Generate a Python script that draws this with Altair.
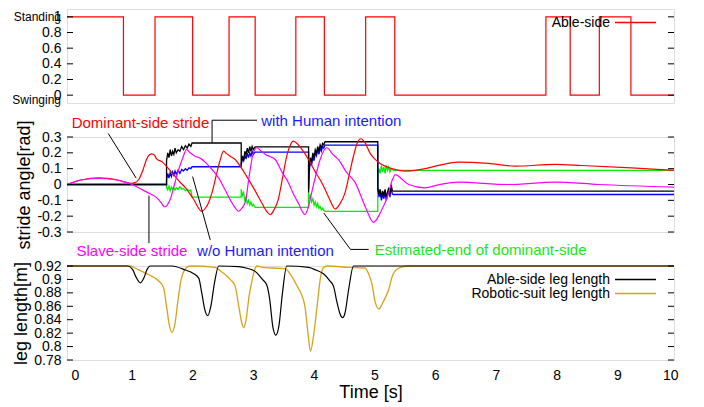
import altair as alt
import pandas as pd

FONT = "Liberation Sans"
W = 607
H_TOP, H_MID, H_BOT = 94, 95, 94

# ---------------- data ----------------
# top panel: able-side state (1 = standing, 0 = swinging), step changes
state_t = [0, 0.93, 1.45, 2.07, 2.67, 3.10, 3.77, 4.24, 4.92, 5.40, 7.89, 8.29, 8.77, 9.29, 10]
state_v = [1, 0, 1, 0, 1, 0, 1, 0, 1, 0, 1, 0, 1, 0, 0]

# middle panel: dominant-side stride (red)
dom_t = [0, 0.25, 0.52, 0.85, 1.05, 1.12, 1.18, 1.25, 1.31, 1.36, 1.40, 1.44, 1.48, 1.56, 1.65,
         1.73, 1.85, 1.95, 2.08, 2.22, 2.28, 2.33, 2.39, 2.46, 2.52, 2.58, 2.63, 2.69, 2.77, 2.88,
         2.99, 3.10, 3.21, 3.29, 3.35, 3.41, 3.48, 3.55, 3.62, 3.68, 3.73, 3.80, 3.87, 3.98, 4.09,
         4.20, 4.31, 4.42, 4.50, 4.58, 4.66, 4.72, 4.78, 4.84, 4.91, 4.99, 5.06, 5.13, 5.24, 5.35,
         5.57, 5.74, 5.90, 6.07, 6.45, 6.94, 7.38, 8.04, 8.48, 9.30, 10]
dom_v = [0, 0.03, 0.042, 0.027, 0.008, 0.012, 0.03, 0.09, 0.158, 0.188, 0.194, 0.185, 0.16, 0.145, 0.11,
         0.074, 0.02, -0.02, -0.09, -0.169, -0.15, -0.117, -0.05, 0.06, 0.15, 0.211, 0.195, 0.179, 0.158, 0.10,
         0.032, -0.04, -0.117, -0.17, -0.19, -0.16, -0.095, 0.04, 0.179, 0.25, 0.274, 0.255, 0.222, 0.158, 0.08,
         0.01, -0.08, -0.155, -0.12, -0.053, 0.08, 0.18, 0.26, 0.289, 0.264, 0.20, 0.165, 0.141, 0.116, 0.10,
         0.085, 0.089, 0.10, 0.116, 0.141, 0.133, 0.116, 0.127, 0.12, 0.105, 0.089]

# slave-side stride (magenta)
sla_t = [0, 0.25, 0.52, 0.80, 0.96, 1.10, 1.18, 1.34, 1.45, 1.51, 1.57, 1.61, 1.65, 1.70, 1.77,
         1.84, 1.91, 1.97, 2.03, 2.11, 2.20, 2.28, 2.40, 2.50, 2.60, 2.72, 2.83, 2.88, 2.94, 3.00,
         3.07, 3.13, 3.20, 3.27, 3.35, 3.43, 3.54, 3.65, 3.73, 3.81, 3.92, 3.97, 4.03, 4.10, 4.17,
         4.28, 4.38, 4.47, 4.60, 4.75, 4.91, 5.05, 5.16, 5.30, 5.36, 5.41, 5.50, 5.63, 5.90, 6.12,
         6.45, 7.27, 8.04, 8.76, 10]
sla_v = [0, 0.03, 0.038, 0.03, 0.015, -0.005, -0.021, -0.053, -0.075, -0.095, -0.125, -0.142, -0.13, -0.095, 0.0,
         0.095, 0.17, 0.222, 0.20, 0.179, 0.165, 0.14, 0.09, 0.04, -0.03, -0.117, -0.169, -0.15, -0.106, 0.05,
         0.20, 0.232, 0.21, 0.19, 0.175, 0.158, 0.08, 0.01, -0.06, -0.117, -0.19, -0.15, -0.053, 0.06, 0.158,
         0.232, 0.19, 0.158, 0.08, 0.01, -0.137, -0.239, -0.18, -0.053, 0.03, 0.063, 0.04, 0.0, -0.021, -0.002,
         0.015, 0.0, 0.015, 0.0, -0.017]

# piecewise estimates (shared time base)
step_t = [0, 1.64, 1.64, 1.66, 1.68, 1.70, 1.72, 1.74, 1.76, 1.78, 1.80, 1.83, 1.86, 1.89, 1.92, 1.95, 1.98,
          2.01, 2.04, 2.06, 2.87, 2.87, 2.89, 2.91, 2.93, 2.95, 2.97, 2.99, 3.01, 3.03, 3.05, 3.07, 3.10,
          3.98, 3.98, 3.99, 4.01, 4.03, 4.05, 4.07, 4.09, 4.11, 4.13, 4.15, 4.17, 4.19, 4.21, 4.23, 4.25,
          5.12, 5.12, 5.14, 5.16, 5.18, 5.20, 5.22, 5.24, 5.26, 5.28, 5.30, 5.32, 5.34, 5.36, 5.38, 10]
with_v = [0, 0, 0.15, 0.20, 0.17, 0.22, 0.18, 0.21, 0.19, 0.23, 0.20, 0.22, 0.21, 0.24, 0.22, 0.245, 0.23,
          0.255, 0.24, 0.262, 0.262, 0.12, 0.18, 0.15, 0.21, 0.19, 0.23, 0.20, 0.24, 0.21, 0.24, 0.22, 0.238,
          0.238, -0.05, 0.10, 0.17, 0.14, 0.20, 0.17, 0.22, 0.20, 0.24, 0.21, 0.25, 0.23, 0.26, 0.25, 0.27,
          0.27, -0.02, -0.06, -0.03, -0.08, -0.04, -0.07, -0.03, -0.08, -0.05, -0.02, -0.06, 0.0, -0.04, -0.042, -0.042]
wo_v = [0, 0, 0.03, 0.07, 0.04, 0.075, 0.05, 0.08, 0.06, 0.085, 0.065, 0.09, 0.07, 0.095, 0.085, 0.10, 0.09,
        0.105, 0.10, 0.112, 0.112, 0.13, 0.17, 0.15, 0.19, 0.16, 0.20, 0.17, 0.20, 0.18, 0.21, 0.19, 0.205,
        0.205, -0.03, 0.08, 0.15, 0.12, 0.18, 0.15, 0.20, 0.18, 0.22, 0.19, 0.23, 0.21, 0.24, 0.23, 0.249,
        0.249, -0.03, -0.08, -0.05, -0.10, -0.06, -0.09, -0.05, -0.10, -0.07, -0.04, -0.08, -0.02, -0.06, -0.063, -0.063]
est_v = [0, 0, -0.02, -0.035, -0.01, -0.04, -0.015, -0.03, -0.02, -0.035, -0.02, -0.03, -0.015, -0.03, -0.025, -0.04, -0.03,
         -0.04, -0.035, -0.08, -0.08, -0.03, -0.07, -0.05, -0.10, -0.08, -0.12, -0.10, -0.13, -0.11, -0.135, -0.125, -0.144,
         -0.144, -0.05, -0.09, -0.07, -0.11, -0.09, -0.13, -0.11, -0.14, -0.12, -0.15, -0.14, -0.16, -0.15, -0.165, -0.17,
         -0.17, 0.06, 0.10, 0.07, 0.12, 0.08, 0.11, 0.07, 0.12, 0.09, 0.11, 0.08, 0.10, 0.095, 0.089, 0.089]

# bottom panel: leg lengths
able_leg_t = [0, 1.0, 1.08, 1.14, 1.21, 1.27, 1.32, 1.37, 1.73, 1.95, 2.08, 2.17, 2.22, 2.27, 2.32,
              2.37, 2.43, 2.50, 2.83, 2.95, 3.10, 3.22, 3.29, 3.34, 3.39, 3.44, 3.49, 3.55, 3.62, 3.98,
              4.10, 4.23, 4.33, 4.39, 4.45, 4.50, 4.54, 4.58, 4.64, 4.72, 10]
able_leg_v = [0.92, 0.92, 0.915, 0.903, 0.895, 0.903, 0.915, 0.92, 0.92, 0.914, 0.909, 0.902, 0.88, 0.855, 0.846,
              0.86, 0.895, 0.92, 0.919, 0.917, 0.912, 0.90, 0.892, 0.87, 0.83, 0.817, 0.83, 0.88, 0.92, 0.918,
              0.914, 0.908, 0.898, 0.89, 0.865, 0.848, 0.843, 0.85, 0.885, 0.92, 0.92]
robo_leg_t = [0, 1.04, 1.12, 1.23, 1.35, 1.45, 1.52, 1.59, 1.64, 1.69, 1.73, 1.78, 1.83, 1.88, 1.93,
              1.97, 2.05, 2.44, 2.55, 2.61, 2.70, 2.77, 2.83, 2.88, 2.91, 2.95, 3.00, 3.04, 3.09, 3.13,
              3.22, 3.38, 3.59, 3.70, 3.78, 3.85, 3.92, 3.97, 4.01, 4.06, 4.12, 4.18, 4.23, 4.30, 4.64,
              4.91, 4.97, 5.02, 5.08, 5.14, 5.20, 5.30, 5.36, 5.41, 5.50, 5.63, 10]
robo_leg_v = [0.92, 0.92, 0.917, 0.912, 0.907, 0.902, 0.897, 0.888, 0.86, 0.83, 0.821, 0.835, 0.87, 0.90, 0.913,
              0.918, 0.92, 0.918, 0.911, 0.907, 0.899, 0.89, 0.86, 0.835, 0.828, 0.84, 0.875, 0.895, 0.914, 0.92,
              0.918, 0.917, 0.916, 0.905, 0.892, 0.88, 0.86, 0.82, 0.793, 0.815, 0.86, 0.905, 0.918, 0.92, 0.918,
              0.917, 0.908, 0.895, 0.865, 0.856, 0.865, 0.885, 0.905, 0.913, 0.918, 0.92, 0.92]

# tick values
x_ticks = [0, 1, 2, 3, 4, 5, 6, 7, 8, 9, 10]
top_ticks = [0, 0.2, 0.4, 0.6, 0.8, 1]
mid_ticks = [-0.3, -0.2, -0.1, 0, 0.1, 0.2, 0.3]
bot_ticks = [0.78, 0.8, 0.82, 0.84, 0.86, 0.88, 0.9, 0.92]

# annotation texts (middle panel)
ann_label = ["Dominant-side stride", "with Human intention", "Slave-side stride",
             "w/o Human intention", "Estimated-end of dominant-side"]
ann_t = [1.21, 3.20, 1.07, 3.27, 5.07]
ann_v = [0.391, 0.401, -0.422, -0.418, -0.412]
ann_align = ["center", "left", "center", "center", "left"]
ann_color = ["#ff0000", "#1a1aff", "#ff00ff", "#1a1aff", "#19e619"]

# leader lines (group, t, v)
lead_g = [1, 1, 2, 2, 3, 3, 4, 4, 4, 5, 5, 5]
lead_t = [0.68, 1.14, 1.35, 1.35, 2.07, 2.36, 2.39, 2.39, 3.13, 4.23, 4.67, 4.97]
lead_v = [0.322, 0.04, -0.07, -0.37, 0.05, -0.35, 0.264, 0.406, 0.406, -0.18, -0.41, -0.41]

for a, b in [(dom_t, dom_v), (sla_t, sla_v), (step_t, with_v), (step_t, wo_v), (step_t, est_v),
             (able_leg_t, able_leg_v), (robo_leg_t, robo_leg_v), (state_t, state_v)]:
    assert len(a) == len(b), (len(a), len(b))


def seq(t, v):
    return pd.DataFrame({"t": t, "v": v, "i": list(range(len(t)))})


xs = alt.Scale(domain=[0, 10], nice=False, zero=False)


def yaxis(values, title=None):
    kw = dict(values=values, labelExpr="'' + datum.value", ticks=False, domain=False, grid=False,
              labelFont=FONT, labelFontSize=14, labelColor="black", labelPadding=6,
              labelOverlap=False)
    if title:
        kw.update(title=title, titleFont=FONT, titleFontSize=18, titleFontWeight="normal",
                  titleColor="black", titlePadding=3)
    else:
        kw.update(title=None)
    return alt.Axis(**kw)


XAX_BOT = alt.Axis(values=x_ticks, ticks=False, domain=False, grid=False, labelOverlap=False,
                   labelFont=FONT, labelFontSize=14, labelColor="black", labelPadding=8,
                   labelOffset=4,
                   title="Time [s]", titleFont=FONT, titleFontSize=18, titleFontWeight="normal",
                   titleColor="black", titlePadding=1)


def line(df, ys, color, xax, yax, width=1.2, interp="linear"):
    return alt.Chart(df).mark_line(color=color, strokeWidth=width, interpolate=interp).encode(
        x=alt.X("t:Q", scale=xs, axis=xax),
        y=alt.Y("v:Q", scale=ys, axis=yax),
        order="i:Q",
    )


def inner_ticks(vals, ys, yax):
    df = pd.DataFrame({"v": vals})
    left = alt.Chart(df).mark_rule(color="black", strokeWidth=1).encode(
        x=alt.value(0), x2=alt.value(6), y=alt.Y("v:Q", scale=ys, axis=yax))
    right = alt.Chart(df).mark_rule(color="black", strokeWidth=1).encode(
        x=alt.value(W - 6), x2=alt.value(W), y=alt.Y("v:Q", scale=ys, axis=yax))
    return [left, right]


def legend_entry(label, color, ypix):
    d = pd.DataFrame({"lab": [label]})
    txt = alt.Chart(d).mark_text(align="right", baseline="middle", font=FONT, fontSize=14,
                                 color="black").encode(x=alt.value(543), y=alt.value(ypix), text="lab:N")
    rl = alt.Chart(d).mark_rule(color=color, strokeWidth=1.3).encode(
        x=alt.value(548), x2=alt.value(589), y=alt.value(ypix - 0.5))
    return [txt, rl]


# ---------------- top panel ----------------
y_top = alt.Scale(domain=[-0.1, 1.1], nice=False, zero=False)
YAX_TOP = yaxis(top_ticks)
top_main = line(seq(state_t, state_v), y_top, "#ff0000", None, YAX_TOP, 1.2, "step-after")
state_lab = alt.Chart(pd.DataFrame({"v": [1.0, -0.06], "lab": ["Standing", "Swinging"]})).mark_text(
    align="right", baseline="middle", font=FONT, fontSize=12, color="black").encode(
    x=alt.value(-6), y=alt.Y("v:Q", scale=y_top, axis=YAX_TOP), text="lab:N")
top = alt.layer(top_main, *inner_ticks(top_ticks, y_top, YAX_TOP), state_lab,
                *legend_entry("Able-side", "#ff0000", 14)).properties(width=W, height=H_TOP)

# ---------------- middle panel ----------------
y_mid = alt.Scale(domain=[-0.3, 0.3], nice=False, zero=False)
YAX_MID = yaxis(mid_ticks, "stride angle[rad]")
mid_green = line(seq(step_t, est_v), y_mid, "#00ee00", None, YAX_MID, 1.3)
mid_blue = line(seq(step_t, wo_v), y_mid, "#0000ff", None, YAX_MID, 1.3)
mid_black = line(seq(step_t, with_v), y_mid, "black", None, YAX_MID, 1.3)
mid_red = line(seq(dom_t, dom_v), y_mid, "#ff0000", None, YAX_MID, 1.2, "monotone")
mid_mag = line(seq(sla_t, sla_v), y_mid, "#ff00ff", None, YAX_MID, 1.2, "monotone")

ann_df = pd.DataFrame({"t": ann_t, "v": ann_v, "lab": ann_label, "c": ann_color, "a": ann_align})
ann_layers = []
for al in ["center", "left"]:
    ann_layers.append(alt.Chart(ann_df[ann_df.a == al]).mark_text(
        align=al, baseline="middle", font=FONT, fontSize=15).encode(
        x=alt.X("t:Q", scale=xs, axis=None), y=alt.Y("v:Q", scale=y_mid, axis=YAX_MID),
        text="lab:N", color=alt.Color("c:N", scale=None)))
lead_df = pd.DataFrame({"g": lead_g, "t": lead_t, "v": lead_v, "i": list(range(len(lead_g)))})
leaders = alt.Chart(lead_df).mark_line(color="black", strokeWidth=1).encode(
    x=alt.X("t:Q", scale=xs, axis=None), y=alt.Y("v:Q", scale=y_mid, axis=YAX_MID),
    detail="g:N", order="i:Q")

mid = alt.layer(mid_green, mid_blue, mid_black, mid_red, mid_mag, *inner_ticks(mid_ticks, y_mid, YAX_MID),
                leaders, *ann_layers).properties(width=W, height=H_MID)

# ---------------- bottom panel ----------------
y_bot = alt.Scale(domain=[0.78, 0.92], nice=False, zero=False)
YAX_BOT = yaxis(bot_ticks, "leg length[m]")
bot_gold = line(seq(robo_leg_t, robo_leg_v), y_bot, "#d9a21b", XAX_BOT, YAX_BOT, 1.3, "monotone")
bot_black = line(seq(able_leg_t, able_leg_v), y_bot, "black", XAX_BOT, YAX_BOT, 1.2, "monotone")
bot = alt.layer(bot_gold, bot_black, *inner_ticks(bot_ticks, y_bot, YAX_BOT),
                *legend_entry("Able-side leg length", "black", 14),
                *legend_entry("Robotic-suit leg length", "#d9a21b", 28)).properties(width=W, height=H_BOT)

chart = alt.vconcat(top, mid, bot, spacing=34, bounds="flush").properties(
    padding={"left": 3, "top": 0, "right": 5, "bottom": 0}
).configure_view(stroke="black", strokeWidth=1.5).configure(background="white")

chart.save("out.html", embed_options={"renderer": "svg", "actions": False})
